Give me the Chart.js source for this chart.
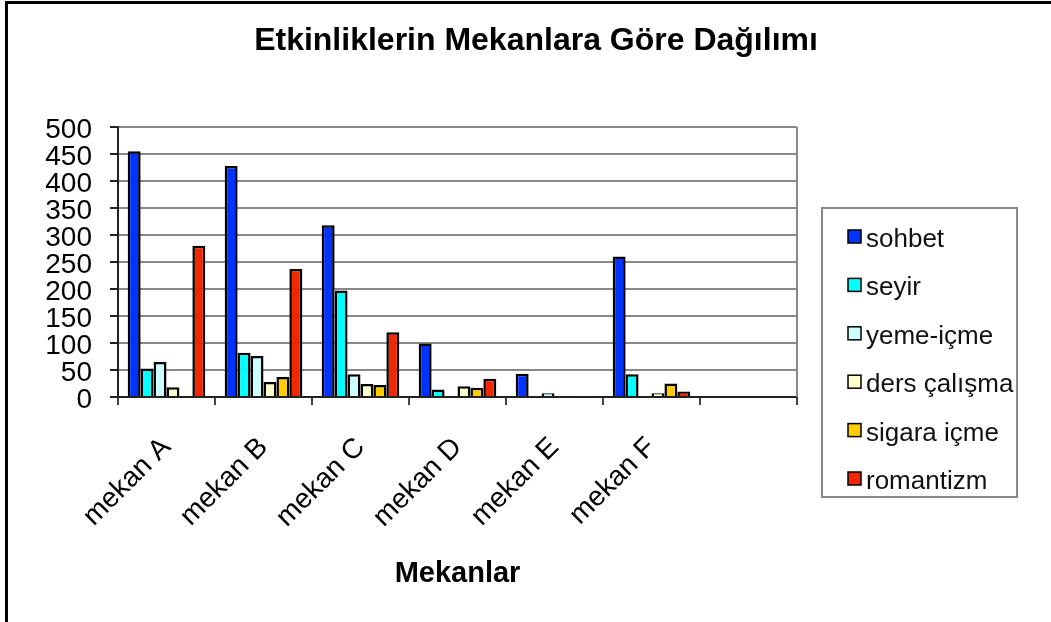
<!DOCTYPE html>
<html>
<head>
<meta charset="utf-8">
<script src="https://cdn.jsdelivr.net/npm/chart.js@4"></script>
<style>
  html, body { margin: 0; padding: 0; background: #fff; overflow: hidden; }
  #wrap { position: relative; width: 1051px; height: 622px; }
  #frame { position: absolute; left: 5px; top: 1px; right: -10px; bottom: -10px;
           border-left: 3px solid #000; border-top: 3px solid #000; pointer-events: none; }
  canvas { position: absolute; left: 0; top: 0; }
</style>
</head>
<body>
<div id="wrap">
  <canvas id="chart" width="1051" height="622"></canvas>
  <div id="frame"></div>
</div>
<script>
// mekanlar (last slot is an empty category)
const categories = ["mekan A", "mekan B", "mekan C", "mekan D", "mekan E", "mekan F", ""];
const yTicks = [0, 50, 100, 150, 200, 250, 300, 350, 400, 450, 500];

// etkinlik values per mekan
const sohbet      = [455, 428, 318, 99, 43, 260, null];
const seyir       = [53, 82, 197, 14, 0, 42, null];
const yemeIcme    = [65, 76, 42, 0, 7, 0, null];
const dersCalisma = [18, 28, 24, 20, 0, 7, null];
const sigaraIcme  = [0, 37, 22, 17, 0, 25, null];
const romantizm   = [280, 237, 120, 34, 1, 10, null];

const seriesNames  = ["sohbet", "seyir", "yeme-içme", "ders çalışma", "sigara içme", "romantizm"];
const seriesData   = [sohbet, seyir, yemeIcme, dersCalisma, sigaraIcme, romantizm];
const seriesColors = ["#0033ff", "#00ffff", "#ccffff", "#ffffcc", "#ffcc00", "#f02800"];

const FONT = 'Arial, "Liberation Sans", sans-serif';

// title, legend box and the plot-area right edge
const decorations = {
    id: "decorations",
    afterDraw(chart) {
        const ctx = chart.ctx;
        const area = chart.chartArea;
        ctx.save();

        // right border of the plot area
        ctx.strokeStyle = "#888";
        ctx.lineWidth = 2;
        ctx.beginPath();
        ctx.moveTo(area.right, area.top);
        ctx.lineTo(area.right, area.bottom);
        ctx.stroke();

        // chart title
        ctx.fillStyle = "#000";
        ctx.font = "bold 32px " + FONT;
        ctx.textAlign = "center";
        ctx.textBaseline = "alphabetic";
        ctx.fillText("Etkinliklerin Mekanlara Göre Dağılımı", 536, 50);

        // legend
        const lx = area.right + 25, ly = 208, lw = 195, lh = 289;
        ctx.strokeStyle = "#888";
        ctx.lineWidth = 2;
        ctx.strokeRect(lx, ly, lw, lh);
        ctx.font = "26px " + FONT;
        ctx.textAlign = "left";
        chart.data.datasets.forEach((ds, i) => {
            const base = 247 + i * 48.4;
            ctx.fillStyle = ds.backgroundColor;
            ctx.fillRect(lx + 26, base - 17, 13, 13);
            ctx.strokeStyle = "#000";
            ctx.lineWidth = 1.5;
            ctx.strokeRect(lx + 26, base - 17, 13, 13);
            ctx.fillStyle = "#111";
            ctx.fillText(ds.label, lx + 44, base);
        });
        ctx.restore();
    }
};

const ctx = document.getElementById("chart").getContext("2d");
new Chart(ctx, {
    type: "bar",
    data: {
        labels: categories,
        datasets: seriesNames.map((name, i) => ({
            label: name,
            data: seriesData[i],
            backgroundColor: seriesColors[i],
            borderColor: "#000",
            borderWidth: 2.5,
            categoryPercentage: 0.8,
            barPercentage: 1.0
        }))
    },
    options: {
        responsive: false,
        animation: false,
        devicePixelRatio: 1,
        layout: { padding: { left: 20, top: 127, right: 254, bottom: 0 } },
        plugins: {
            legend: { display: false },
            title: { display: false },
            tooltip: { enabled: false }
        },
        scales: {
            x: {
                grid: {
                    offset: true,
                    drawOnChartArea: false,
                    drawTicks: true,
                    tickLength: 8,
                    tickColor: "#444",
                    lineWidth: 2
                },
                border: { color: "#222", width: 2 },
                ticks: {
                    autoSkip: false,
                    maxRotation: 45,
                    minRotation: 45,
                    padding: 26,
                    color: "#000",
                    font: { family: FONT, size: 28 }
                },
                title: {
                    display: true,
                    text: "Mekanlar",
                    color: "#000",
                    font: { family: FONT, size: 29, weight: "bold" },
                    padding: { top: 0, bottom: 31 }
                },
                afterFit(scale) { scale.height = 225; }
            },
            y: {
                min: 0,
                max: 500,
                afterBuildTicks(scale) { scale.ticks = yTicks.map(v => ({ value: v })); },
                grid: {
                    color: "#888",
                    lineWidth: 2,
                    tickLength: 8,
                    tickColor: "#222"
                },
                border: { color: "#222", width: 2 },
                ticks: {
                    autoSkip: false,
                    padding: 18,
                    labelOffset: 3,
                    color: "#000",
                    font: { family: FONT, size: 28 }
                },
                afterFit(scale) { scale.width = 98; }
            }
        }
    },
    plugins: [decorations]
});
</script>
</body>
</html>
